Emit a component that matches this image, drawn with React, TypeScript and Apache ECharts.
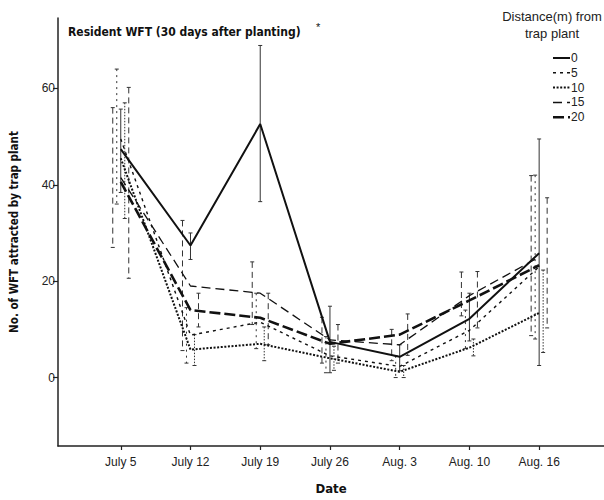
import React, { useEffect, useRef } from "react";
import * as echarts from "echarts";

const dates = ["July 5", "July 12", "July 19", "July 26", "Aug. 3", "Aug. 10", "Aug. 16"];
const dateIndex = [0, 1, 2, 3, 4, 5, 6];
const yTicks = [0, 20, 40, 60];
const distances = ["0", "5", "10", "15", "20"];

const mean0 = [47.4, 27.4, 52.6, 7.4, 4.3, 12.2, 25.8];
const low0 = [38.4, 24.5, 36.5, 1.0, 1.4, 7.6, 2.5];
const high0 = [55.7, 30.0, 68.9, 14.8, 6.8, 17.5, 49.5];

const mean5 = [49.5, 8.8, 11.5, 4.5, 2.3, 9.8, 23.0];
const low5 = [36.0, 3.0, 6.0, 1.0, 0.0, 6.0, 8.0];
const high5 = [64.0, 14.5, 17.5, 8.5, 4.5, 14.0, 42.0];

const mean10 = [45.5, 5.8, 7.0, 4.0, 1.2, 6.2, 13.4];
const low10 = [33.0, 2.5, 3.5, 1.5, 0.0, 4.5, 5.2];
const high10 = [57.0, 8.9, 10.5, 6.5, 2.5, 8.0, 22.3];

const mean15 = [41.5, 19.0, 17.5, 7.8, 6.8, 17.0, 25.0];
const low15 = [27.0, 5.6, 11.0, 3.0, 3.5, 12.8, 8.7];
const high15 = [56.0, 32.6, 24.0, 12.5, 10.0, 21.9, 41.9];

const mean20 = [40.6, 14.0, 12.4, 7.0, 8.9, 16.0, 23.3];
const low20 = [20.6, 10.5, 6.8, 3.0, 4.6, 10.3, 10.3];
const high20 = [60.2, 17.5, 17.5, 11.0, 13.2, 22.0, 37.3];

const FONT = "'Liberation Sans', Arial, sans-serif";
const NARROW = "'Liberation Sans Narrow', 'DejaVu Sans Condensed', sans-serif";

type Style = { width: number; dash: number[] | "solid"; barDash: number[] | null; offset: number };

const styles: Style[] = [
  { width: 2, dash: "solid", barDash: null, offset: 0 },
  { width: 1.4, dash: [3, 4], barDash: [2, 4], offset: -4 },
  { width: 2, dash: [2, 1.6], barDash: [1.5, 1.5], offset: 4 },
  { width: 1.3, dash: [9, 5], barDash: [6, 4], offset: -8 },
  { width: 2.6, dash: [11, 4], barDash: [6, 4], offset: 8 },
];

const means = [mean0, mean5, mean10, mean15, mean20];
const lows = [low0, low5, low10, low15, low20];
const highs = [high0, high5, high10, high15, high20];

export default function App() {
  const ref = useRef<HTMLDivElement>(null);
  useEffect(() => {
    if (!ref.current) return;
    const chart = echarts.init(ref.current, undefined, { renderer: "svg" });

    const lineSeries = distances.map((d, k) => ({
      type: "line",
      name: d,
      data: means[k].map((v, i) => [dateIndex[i], v]),
      symbol: "none",
      lineStyle: { color: "#111", width: styles[k].width, type: styles[k].dash },
      itemStyle: { color: "#111" },
      z: 3,
    }));

    const errSeries = distances.map((d, k) => ({
      type: "custom",
      name: "err" + d,
      data: lows[k].map((l, i) => [dateIndex[i], l, highs[k][i]]),
      z: 2,
      renderItem: (params: any, api: any) => {
        const x = api.value(0);
        const lo = api.value(1);
        const hi = api.value(2);
        const pt = api.coord([x, hi]);
        const pb = api.coord([x, lo]);
        const cx = pt[0] + styles[k].offset;
        const dash = styles[k].barDash;
        const st: any = { stroke: "#333", lineWidth: 1 };
        if (dash) st.lineDash = dash;
        return {
          type: "group",
          children: [
            { type: "line", shape: { x1: cx, y1: pt[1], x2: cx, y2: pb[1] }, style: st },
            { type: "line", shape: { x1: cx - 2, y1: pt[1], x2: cx + 2, y2: pt[1] }, style: { stroke: "#333", lineWidth: 1 } },
            { type: "line", shape: { x1: cx - 2, y1: pb[1], x2: cx + 2, y2: pb[1] }, style: { stroke: "#333", lineWidth: 1 } },
          ],
        };
      },
    }));

    // legend drawn by hand so that the line samples carry the series dashes
    const legendItems: any[] = [];
    distances.forEach((d, k) => {
      const y = 58 + k * 14.8;
      const st = styles[k];
      const lineStyle: any = { stroke: "#111", lineWidth: Math.max(st.width, 1.5) };
      if (st.dash !== "solid") lineStyle.lineDash = st.dash;
      legendItems.push({ type: "line", shape: { x1: 553, y1: y, x2: 570, y2: y }, style: lineStyle });
      legendItems.push({
        type: "text",
        x: 571,
        y: y,
        style: { text: d, fontFamily: FONT, fontSize: 12, fill: "#222", verticalAlign: "middle" },
      });
    });

    chart.setOption({
      animation: false,
      backgroundColor: "#fff",
      grid: { left: 58, top: 18, right: -2, bottom: 51, containLabel: false, show: false },
      xAxis: {
        type: "value",
        min: -0.9,
        max: 6.93,
        name: "Date",
        nameLocation: "middle",
        nameGap: 36,
        nameTextStyle: { fontFamily: NARROW, fontWeight: "bold", fontSize: 13, color: "#111" },
        splitLine: { show: false },
        axisLine: { onZero: false, lineStyle: { color: "#222", width: 1.5 } },
        axisTick: { customValues: dateIndex, length: 4, lineStyle: { color: "#222", width: 1.2 } },
        axisLabel: {
          customValues: dateIndex,
          formatter: (v: number) => dates[Math.round(v)] ?? "",
          fontFamily: FONT,
          fontSize: 12,
          color: "#222",
          margin: 10,
        },
      },
      yAxis: {
        type: "value",
        min: -14.2,
        max: 74.6,
        name: "No. of WFT attracted by trap plant",
        nameLocation: "middle",
        nameGap: 38,
        nameRotate: 90,
        nameTextStyle: { fontFamily: NARROW, fontWeight: "bold", fontSize: 11.5, color: "#111" },
        splitLine: { show: false },
        axisLine: { show: true, onZero: false, lineStyle: { color: "#222", width: 1.5 } },
        axisTick: { show: true, customValues: yTicks, length: 5, lineStyle: { color: "#222", width: 1.2 } },
        axisLabel: {
          customValues: yTicks,
          fontFamily: FONT,
          fontSize: 12,
          color: "#222",
          margin: 3,
        },
      },
      graphic: [
        {
          type: "text",
          left: 68,
          top: 26,
          style: { text: "Resident WFT (30 days after planting)", fontFamily: NARROW, fontWeight: "bold", fontSize: 12, fill: "#111" },
        },
        { type: "text", left: 316, top: 21, style: { text: "*", fontFamily: FONT, fontSize: 11, fill: "#111" } },
        {
          type: "text",
          x: 552,
          y: 10,
          style: { text: "Distance(m) from", fontFamily: FONT, fontSize: 13, fill: "#222", align: "center" },
        },
        {
          type: "text",
          x: 552,
          y: 27,
          style: { text: "trap plant", fontFamily: FONT, fontSize: 13, fill: "#222", align: "center" },
        },
        ...legendItems,
      ],
      series: [...errSeries, ...lineSeries],
    });

    return () => chart.dispose();
  }, []);

  return <div ref={ref} style={{ position: "fixed", left: 0, top: 0, width: 604, height: 500 }} />;
}
